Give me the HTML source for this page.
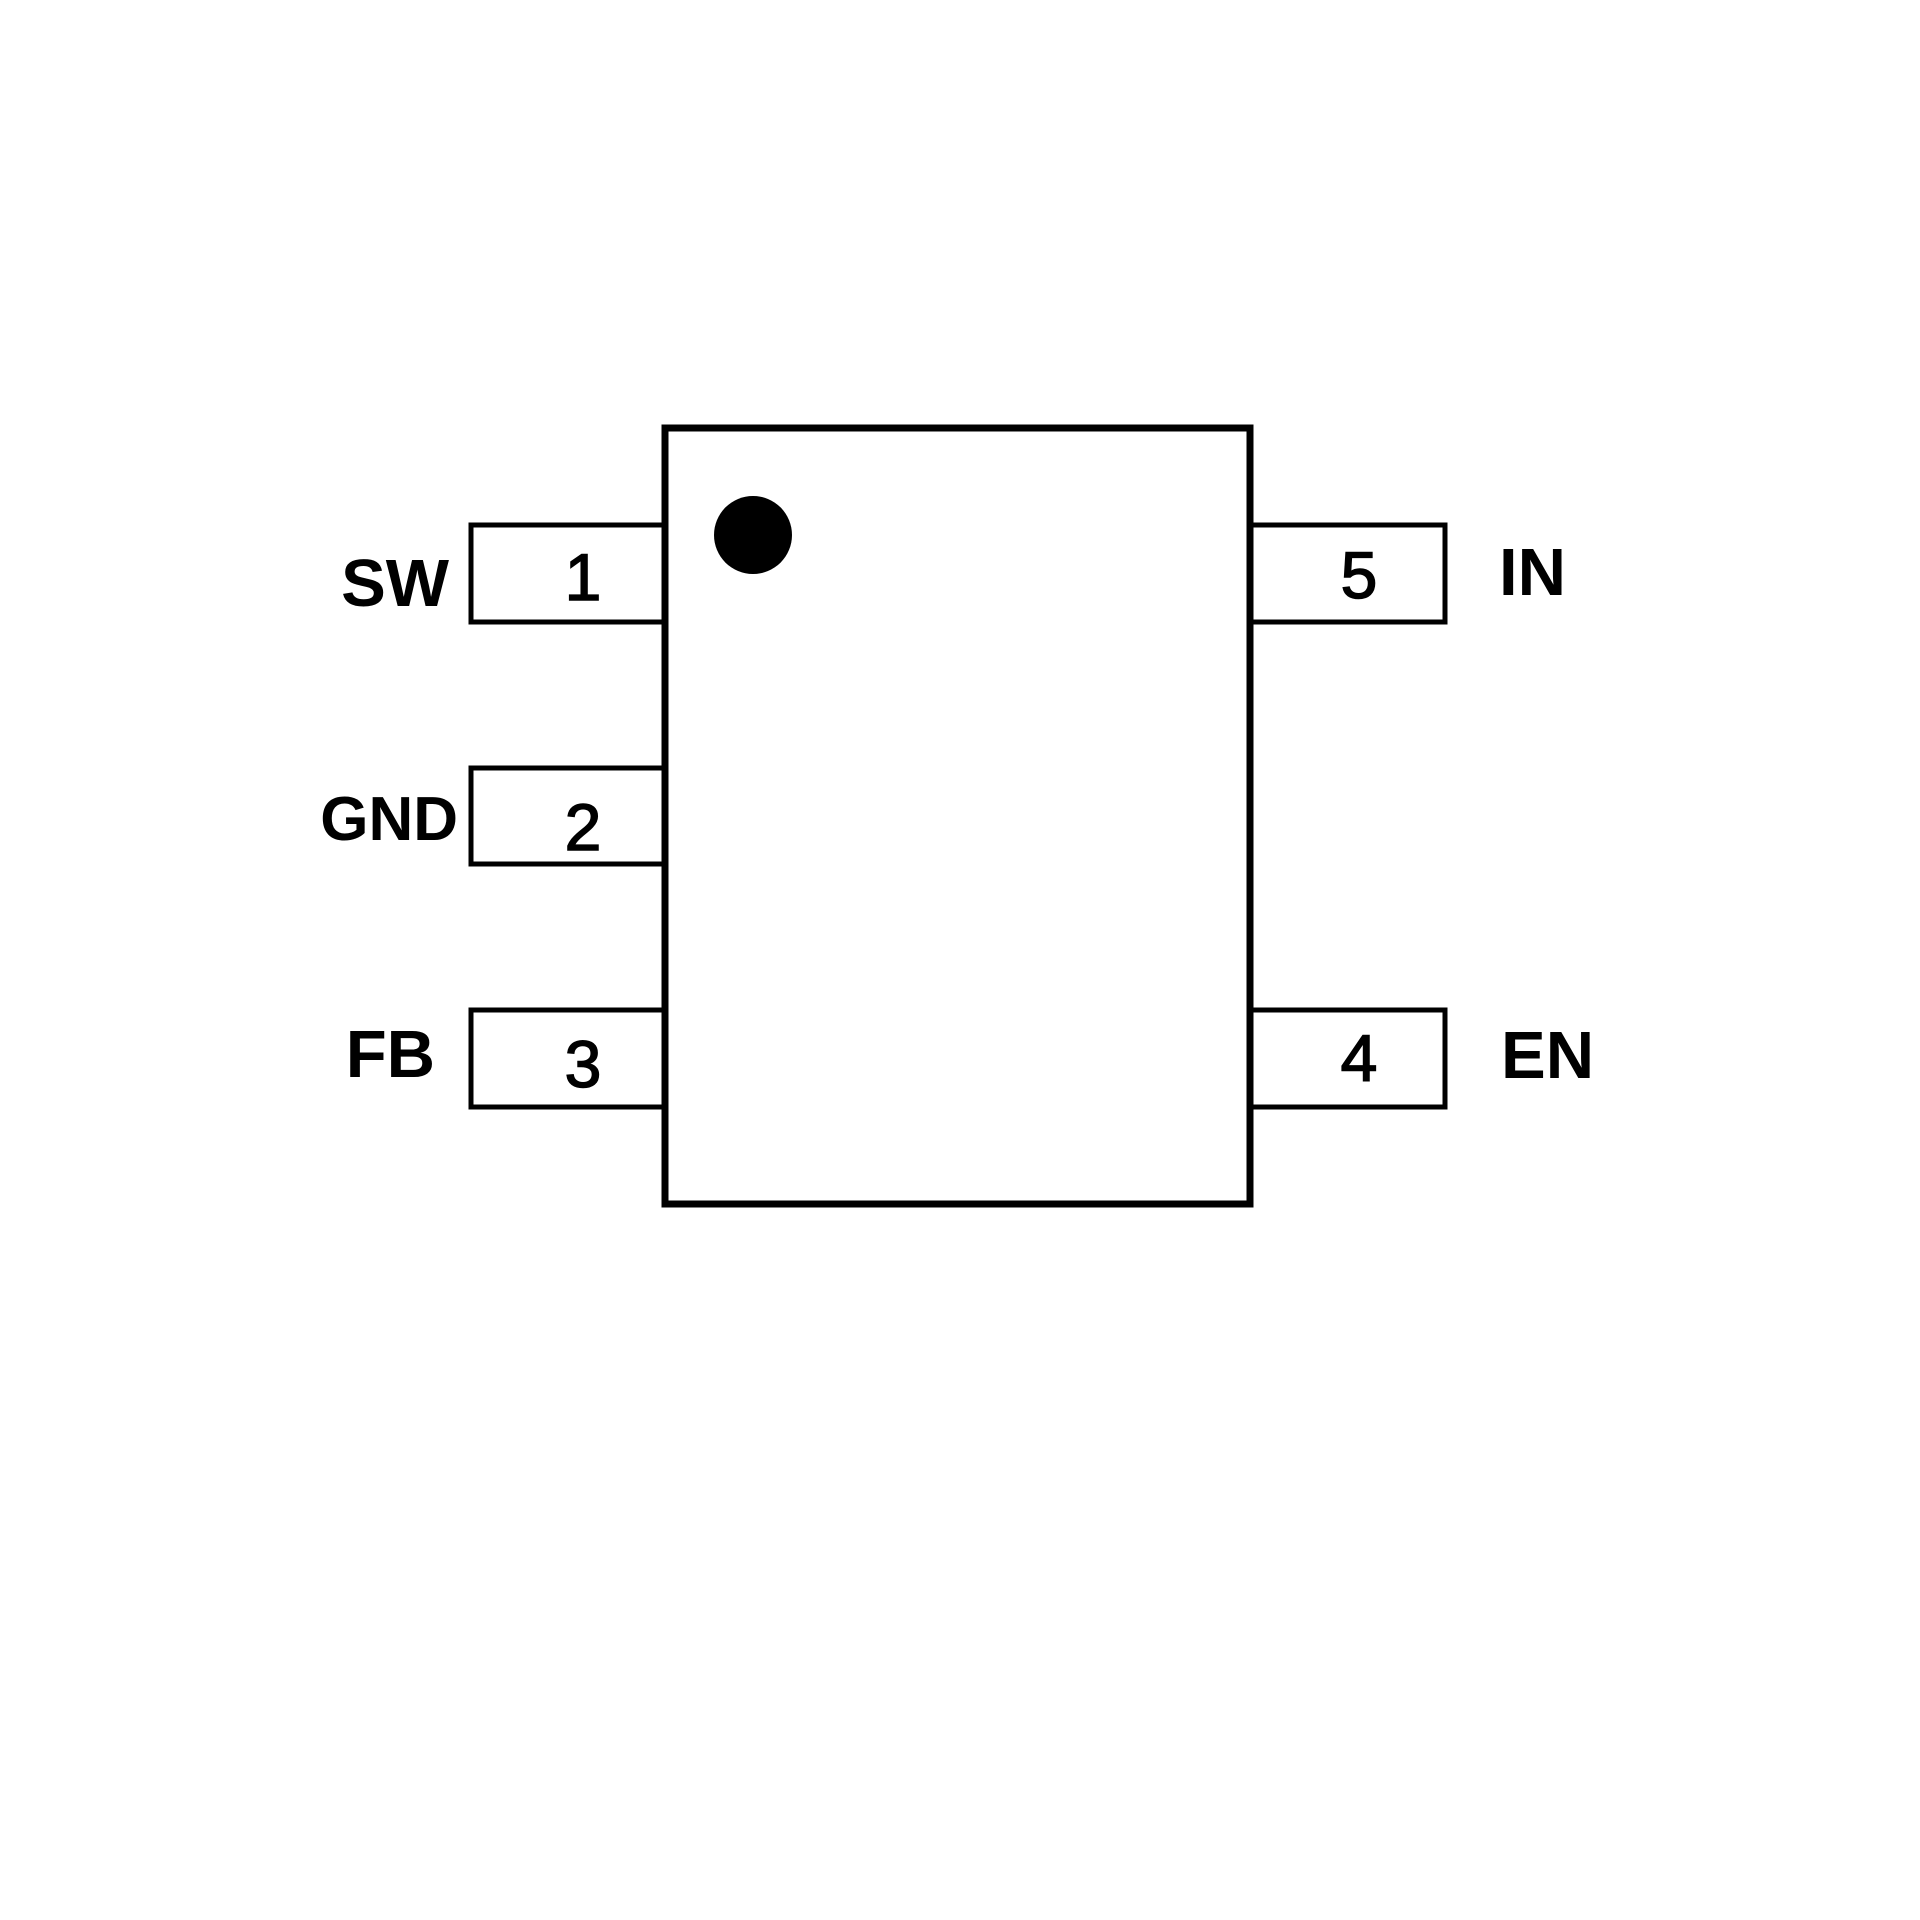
<!DOCTYPE html>
<html><head><meta charset="utf-8"><style>
html,body{margin:0;padding:0;background:#fff;}
svg{display:block;}
</style></head><body>
<svg width="1920" height="1920" viewBox="0 0 1920 1920" xmlns="http://www.w3.org/2000/svg">
<rect width="1920" height="1920" fill="#fff"/>
<g fill="#fff" stroke="#000" stroke-width="5">
<rect x="471" y="525" width="194" height="97"/>
<rect x="471" y="768" width="194" height="96"/>
<rect x="471" y="1010" width="194" height="97"/>
<rect x="1250" y="525" width="195" height="97"/>
<rect x="1250" y="1010" width="195" height="97"/>
</g>
<rect x="665" y="428" width="585" height="776" fill="#fff" stroke="#000" stroke-width="7"/>
<circle cx="753" cy="535" r="39" fill="#000"/>
<g font-family="Liberation Sans, Arial, sans-serif" fill="#000">
<g font-weight="bold" font-size="67">
<text x="449" y="606" text-anchor="end">SW</text>
<text x="458" y="840" text-anchor="end" font-size="62">GND</text>
<text x="435" y="1077" text-anchor="end">FB</text>
<text x="1499" y="595">IN</text>
<text x="1501" y="1078">EN</text>
</g>
<g font-size="66" text-anchor="middle" stroke="#000" stroke-width="1.5">
<text x="583" y="600">1</text>
<text x="583" y="850">2</text>
<text x="583" y="1087">3</text>
<text x="1359" y="598">5</text>
<text x="1359" y="1081">4</text>
</g>
</g>
</svg>
</body></html>
